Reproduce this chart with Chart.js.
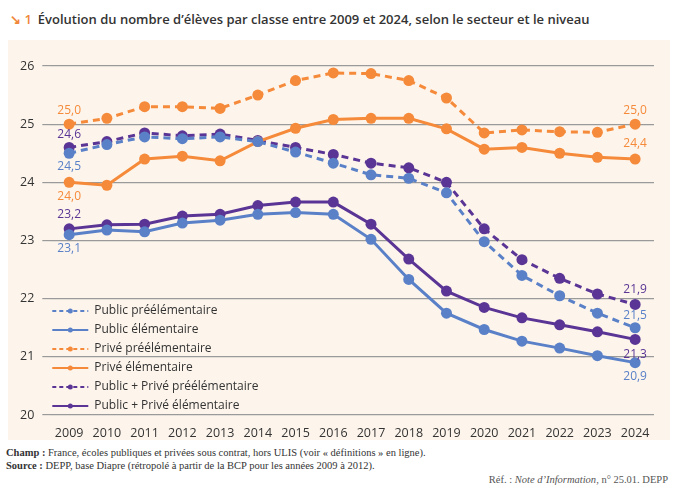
<!DOCTYPE html>
<html><head><meta charset="utf-8">
<script src="https://cdn.jsdelivr.net/npm/chart.js@4"></script>
<style>
body{margin:0;background:#fff;font-family:"Open Sans",sans-serif;width:680px;height:492px;overflow:hidden}
.title{position:absolute;left:10px;top:10px;font-size:13px;font-weight:600;color:#333}
.title span{color:#f0883a;margin-right:6px}
.wrap{position:absolute;left:8px;top:40px;width:662px;height:400px;background:#fdf5ec}
.foot{position:absolute;left:6px;top:446px;font-family:"Liberation Serif",serif;font-size:10.5px;color:#333;line-height:13px}
.ref{position:absolute;right:12px;top:474px;font-family:"Liberation Serif",serif;font-size:10.5px;color:#555}
</style></head><body>
<div class="title"><span>↘ 1</span>Évolution du nombre d’élèves par classe entre 2009 et 2024, selon le secteur et le niveau</div>
<div class="wrap"><canvas id="c" width="662" height="400"></canvas></div>
<div class="foot"><b>Champ :</b> France, écoles publiques et privées sous contrat, hors ULIS (voir « définitions » en ligne).<br><b>Source :</b> DEPP, base Diapre (rétropolé à partir de la BCP pour les années 2009 à 2012).</div>
<div class="ref">Réf. : <i>Note d’Information</i>, n° 25.01. DEPP</div>
<script>
const years = ['2009','2010','2011','2012','2013','2014','2015','2016','2017','2018','2019','2020','2021','2022','2023','2024'];
const publicPre = [24.5,24.65,24.78,24.75,24.78,24.7,24.52,24.33,24.13,24.07,23.82,22.98,22.4,22.05,21.75,21.5];
const publicElem = [23.1,23.18,23.15,23.3,23.35,23.45,23.48,23.45,23.02,22.33,21.75,21.47,21.27,21.15,21.02,20.9];
const privePre = [25.0,25.1,25.3,25.3,25.27,25.5,25.75,25.88,25.87,25.75,25.45,24.85,24.9,24.87,24.86,25.0];
const priveElem = [24.0,23.95,24.4,24.45,24.37,24.7,24.93,25.08,25.1,25.1,24.92,24.57,24.6,24.5,24.43,24.4];
const allPre = [24.6,24.7,24.85,24.8,24.83,24.72,24.6,24.48,24.33,24.25,24.0,23.2,22.67,22.35,22.08,21.9];
const allElem = [23.2,23.27,23.28,23.42,23.45,23.6,23.66,23.66,23.28,22.68,22.13,21.85,21.67,21.55,21.43,21.3];
const yTicks = [20,21,22,23,24,25,26];

const BLUE='#5a80c8', ORANGE='#f58a3a', PURPLE='#5b3595';
function ds(label,data,color,dashed){
  return {label,data,borderColor:color,backgroundColor:color,borderWidth:3,pointRadius:5.5,
    pointBackgroundColor:color,pointBorderWidth:0,borderDash:dashed?[7,5]:[],tension:0};
}
// end labels: [datasetIndex, pointIndex, text, dy, color]
const endLabels = [
  [2,0,'25,0',-14,ORANGE],[2,15,'25,0',-14,ORANGE],[3,0,'24,0',14,ORANGE],[3,15,'24,4',-15,ORANGE],
  [4,0,'24,6',-13,PURPLE],[0,0,'24,5',13,BLUE],[5,0,'23,2',-14,PURPLE],[1,0,'23,1',14,BLUE],
  [4,15,'21,9',-15,PURPLE],[0,15,'21,5',-12,BLUE],[5,15,'21,3',15,PURPLE],[1,15,'20,9',14,BLUE]
];
const labelPlugin={id:'lbl',afterDatasetsDraw(ch){
  const c=ch.ctx;c.save();c.font='12px "Open Sans"';c.textAlign='center';c.textBaseline='middle';
  endLabels.forEach(([d,i,t,dy,col])=>{const p=ch.getDatasetMeta(d).data[i];c.fillStyle=col;c.fillText(t,p.x,p.y+dy);});
  // legend
  const items=ch.data.datasets;let y=ch.chartArea.bottom-104;const x=ch.chartArea.left+2;
  items.forEach(it=>{c.strokeStyle=it.borderColor;c.lineWidth=2;c.setLineDash(it.borderDash.length?[4,3]:[]);
    c.beginPath();c.moveTo(x,y);c.lineTo(x+36,y);c.stroke();c.setLineDash([]);
    c.fillStyle=it.borderColor;c.beginPath();c.arc(x+18,y,2.5,0,7);c.fill();
    c.fillStyle='#333';c.textAlign='left';c.fillText(it.label,x+42,y);y+=19;});
  c.restore();}};
new Chart(document.getElementById('c'),{type:'line',
  data:{labels:years,datasets:[
    ds('Public préélémentaire',publicPre,BLUE,true),
    ds('Public élémentaire',publicElem,BLUE,false),
    ds('Privé préélémentaire',privePre,ORANGE,true),
    ds('Privé élémentaire',priveElem,ORANGE,false),
    ds('Public + Privé préélémentaire',allPre,PURPLE,true),
    ds('Public + Privé élémentaire',allElem,PURPLE,false)]},
  options:{responsive:false,animation:false,layout:{padding:{top:26,right:16,left:4,bottom:-4}},
    plugins:{legend:{display:false},tooltip:{enabled:false}},
    scales:{
      x:{offset:true,grid:{display:false},border:{display:false},ticks:{color:'#333',font:{size:12.5,family:'Open Sans'}}},
      y:{min:20,max:26,afterBuildTicks(a){a.ticks=yTicks.map(v=>({value:v}));},
        grid:{color:'#9a9a9a',lineWidth:1.2},border:{display:false},
        ticks:{color:'#333',padding:8,font:{size:12.5,family:'Open Sans'}}}}},
  plugins:[labelPlugin]});
</script>
</body></html>
